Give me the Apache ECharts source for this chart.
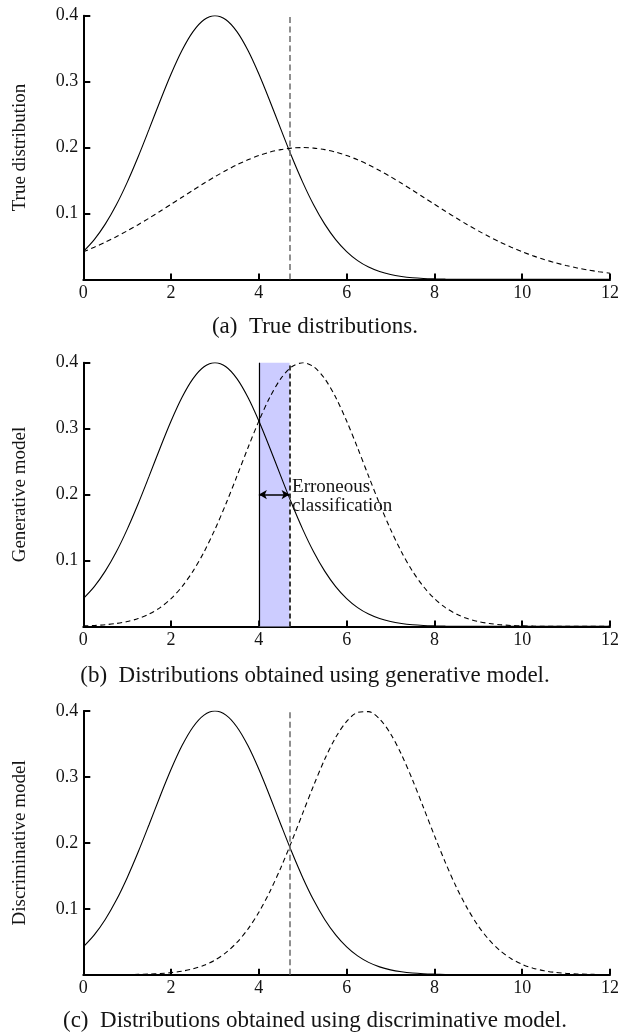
<!DOCTYPE html>
<html><head><meta charset="utf-8">
<script src="https://cdn.jsdelivr.net/npm/echarts@6/dist/echarts.min.js"></script>
<style>html,body{margin:0;padding:0;background:#fff}#c{width:622px;height:1035px}</style>
</head><body><div id="c"></div>
<script>
// ---------- data ----------
const xValues = [0,0.25,0.5,0.75,1,1.25,1.5,1.75,2,2.25,2.5,2.75,3,3.25,3.5,3.75,4,4.25,4.5,4.75,5,5.25,5.5,5.75,6,6.25,6.5,6.75,7,7.25,7.5,7.75,8,8.25,8.5,8.75,9,9.25,9.5,9.75,10,10.25,10.5,10.75,11,11.25,11.5,11.75,12];
// solid curve (same class-1 density in all three panels)
const solidClass1 = [0.0422,0.0604,0.0838,0.1128,0.1472,0.1860,0.2279,0.2707,0.3115,0.3475,0.3758,0.3938,0.4,0.3938,0.3758,0.3475,0.3115,0.2707,0.2279,0.1860,0.1472,0.1128,0.0838,0.0604,0.0422,0.0285,0.0187,0.0119,0.0073,0.0044,0.0025,0.0014,0.0008,0.0004,0.0002,0.0001,0.0001,0,0,0,0,0,0,0,0,0,0,0,0];
// dashed curves
const dashedTrue = [0.0419,0.0488,0.0564,0.0647,0.0736,0.0830,0.0930,0.1034,0.1140,0.1247,0.1353,0.1458,0.1558,0.1652,0.1738,0.1814,0.1879,0.1931,0.1969,0.1992,0.2,0.1992,0.1969,0.1931,0.1879,0.1814,0.1738,0.1652,0.1558,0.1458,0.1353,0.1247,0.1140,0.1034,0.0930,0.0830,0.0736,0.0647,0.0564,0.0488,0.0419,0.0357,0.0302,0.0253,0.0211,0.0174,0.0143,0.0116,0.0094];
const dashedGenerative = [0.0008,0.0014,0.0025,0.0044,0.0073,0.0119,0.0187,0.0285,0.0422,0.0604,0.0838,0.1128,0.1472,0.1860,0.2279,0.2707,0.3115,0.3475,0.3758,0.3938,0.4,0.3938,0.3758,0.3475,0.3115,0.2707,0.2279,0.1860,0.1472,0.1128,0.0838,0.0604,0.0422,0.0285,0.0187,0.0119,0.0073,0.0044,0.0025,0.0014,0.0008,0.0004,0.0002,0.0001,0.0001,0,0,0,0];
const dashedDiscriminative = [0,0,0.0001,0.0001,0.0003,0.0005,0.0010,0.0018,0.0032,0.0054,0.0089,0.0143,0.0222,0.0335,0.0489,0.0691,0.0948,0.1260,0.1622,0.2025,0.2451,0.2874,0.3267,0.3599,0.3843,0.3978,0.3990,0.3879,0.3656,0.3339,0.2956,0.2536,0.2109,0.1700,0.1328,0.1006,0.0738,0.0525,0.0362,0.0242,0.0157,0.0098,0.0060,0.0035,0.0020,0.0011,0.0006,0.0003,0.0002];
const trueBoundary = 4.7;       // vertical dashed line / right edge of band
const generativeBoundary = 4.0; // left edge of band
const arrowLevel = 0.2;
const yAxisNames = ['True distribution','Generative model','Discriminative model'];
const captions = ['(a)  True distributions.','(b)  Distributions obtained using generative model.','(c)  Distributions obtained using discriminative model.'];
const annotationText = 'Erroneous\nclassification';
const xRange = [0, 12], xStep = 2;
const yRange = [0, 0.4], yStep = 0.1;

// ---------- layout ----------
const gridTops = [15.7, 362.7, 711];
const gridHeight = 263.7;
const captionY = [327, 676, 1021];
const serif = 'Liberation Serif';
const ink = '#141414';

const dashedSets = [dashedTrue, dashedGenerative, dashedDiscriminative];
const toPairs = arr => xValues.map((x, k) => [x, arr[k]]);

const grid = [], xAxis = [], yAxis = [], series = [];
for (let i = 0; i < 3; i++) {
  grid.push({left: 83.3, right: 11, top: gridTops[i], height: gridHeight});
  xAxis.push({
    type: 'value', gridIndex: i, min: xRange[0], max: xRange[1], interval: xStep,
    axisLine: {show: true, onZero: false, lineStyle: {color: '#000', width: 2}},
    axisTick: {show: true, inside: true, length: 6, lineStyle: {color: '#000', width: 2}},
    axisLabel: {color: ink, fontFamily: serif, fontSize: 18, margin: 5},
    splitLine: {show: false}
  });
  yAxis.push({
    type: 'value', gridIndex: i, min: yRange[0], max: yRange[1], interval: yStep,
    name: yAxisNames[i], nameLocation: 'middle', nameGap: 54, nameRotate: 90,
    nameTextStyle: {color: ink, fontFamily: serif, fontSize: 19},
    axisLine: {show: true, onZero: false, lineStyle: {color: '#000', width: 2}},
    axisTick: {show: true, inside: true, length: 7, lineStyle: {color: '#000', width: 2}},
    axisLabel: {color: ink, fontFamily: serif, fontSize: 18, margin: 5,
      formatter: v => v === 0 ? '' : v.toFixed(1)},
    splitLine: {show: false}
  });

  // decorations
  if (i === 1) {
    series.push({
      type: 'line', xAxisIndex: i, yAxisIndex: i, data: [], z: 1, silent: true,
      markArea: {silent: true, itemStyle: {color: '#ccccff'},
        data: [[{xAxis: generativeBoundary, yAxis: yRange[0]}, {xAxis: trueBoundary, yAxis: yRange[1]}]]},
      markLine: {silent: true, symbol: 'none', label: {show: false},
        data: [
          {xAxis: generativeBoundary, lineStyle: {color: '#000', width: 1.2, type: 'solid'}},
          {xAxis: trueBoundary, lineStyle: {color: '#3a3a3a', width: 2, type: [5, 3]}}
        ]}
    });
    series.push({
      type: 'line', xAxisIndex: i, yAxisIndex: i, data: [], z: 5, silent: true,
      markLine: {silent: true, symbol: ['arrow', 'arrow'], symbolSize: [7, 8], label: {show: false},
        lineStyle: {color: '#000', width: 1.5, type: 'solid'},
        data: [[{coord: [generativeBoundary, arrowLevel]}, {coord: [trueBoundary, arrowLevel]}]]},
      markPoint: {silent: true, symbol: 'rect', symbolSize: 1, itemStyle: {color: 'rgba(0,0,0,0)'},
        label: {show: true, position: 'right', distance: 2, formatter: annotationText,
          color: ink, fontFamily: serif, fontSize: 19, lineHeight: 19, align: 'left', offset: [0, 2]},
        data: [{coord: [trueBoundary, arrowLevel]}]}
    });
  } else {
    series.push({
      type: 'line', xAxisIndex: i, yAxisIndex: i, data: [], z: 1, silent: true,
      markLine: {silent: true, symbol: 'none', label: {show: false},
        lineStyle: {color: '#6b6b6b', width: 1.5, type: [6, 3.5]},
        data: [{xAxis: trueBoundary}]}
    });
  }

  series.push({
    type: 'line', xAxisIndex: i, yAxisIndex: i, data: toPairs(solidClass1),
    smooth: 0.3, showSymbol: false, z: 3, silent: true,
    lineStyle: {color: '#000', width: 1.1}
  });
  series.push({
    type: 'line', xAxisIndex: i, yAxisIndex: i, data: toPairs(dashedSets[i]),
    smooth: 0.3, showSymbol: false, z: 3, silent: true,
    lineStyle: {color: '#000', width: 1.1, type: [5, 3.5]}
  });
}

const graphic = captions.map((t, i) => ({
  type: 'text', x: 315, y: captionY[i],
  style: {text: t, fill: ink, font: '23px "' + serif + '"', textAlign: 'center', textVerticalAlign: 'middle'}
}));

const chart = echarts.init(document.getElementById('c'), null, {renderer: 'canvas'});
chart.setOption({animation: false, backgroundColor: '#fff', grid, xAxis, yAxis, series, graphic});
</script>
</body></html>
